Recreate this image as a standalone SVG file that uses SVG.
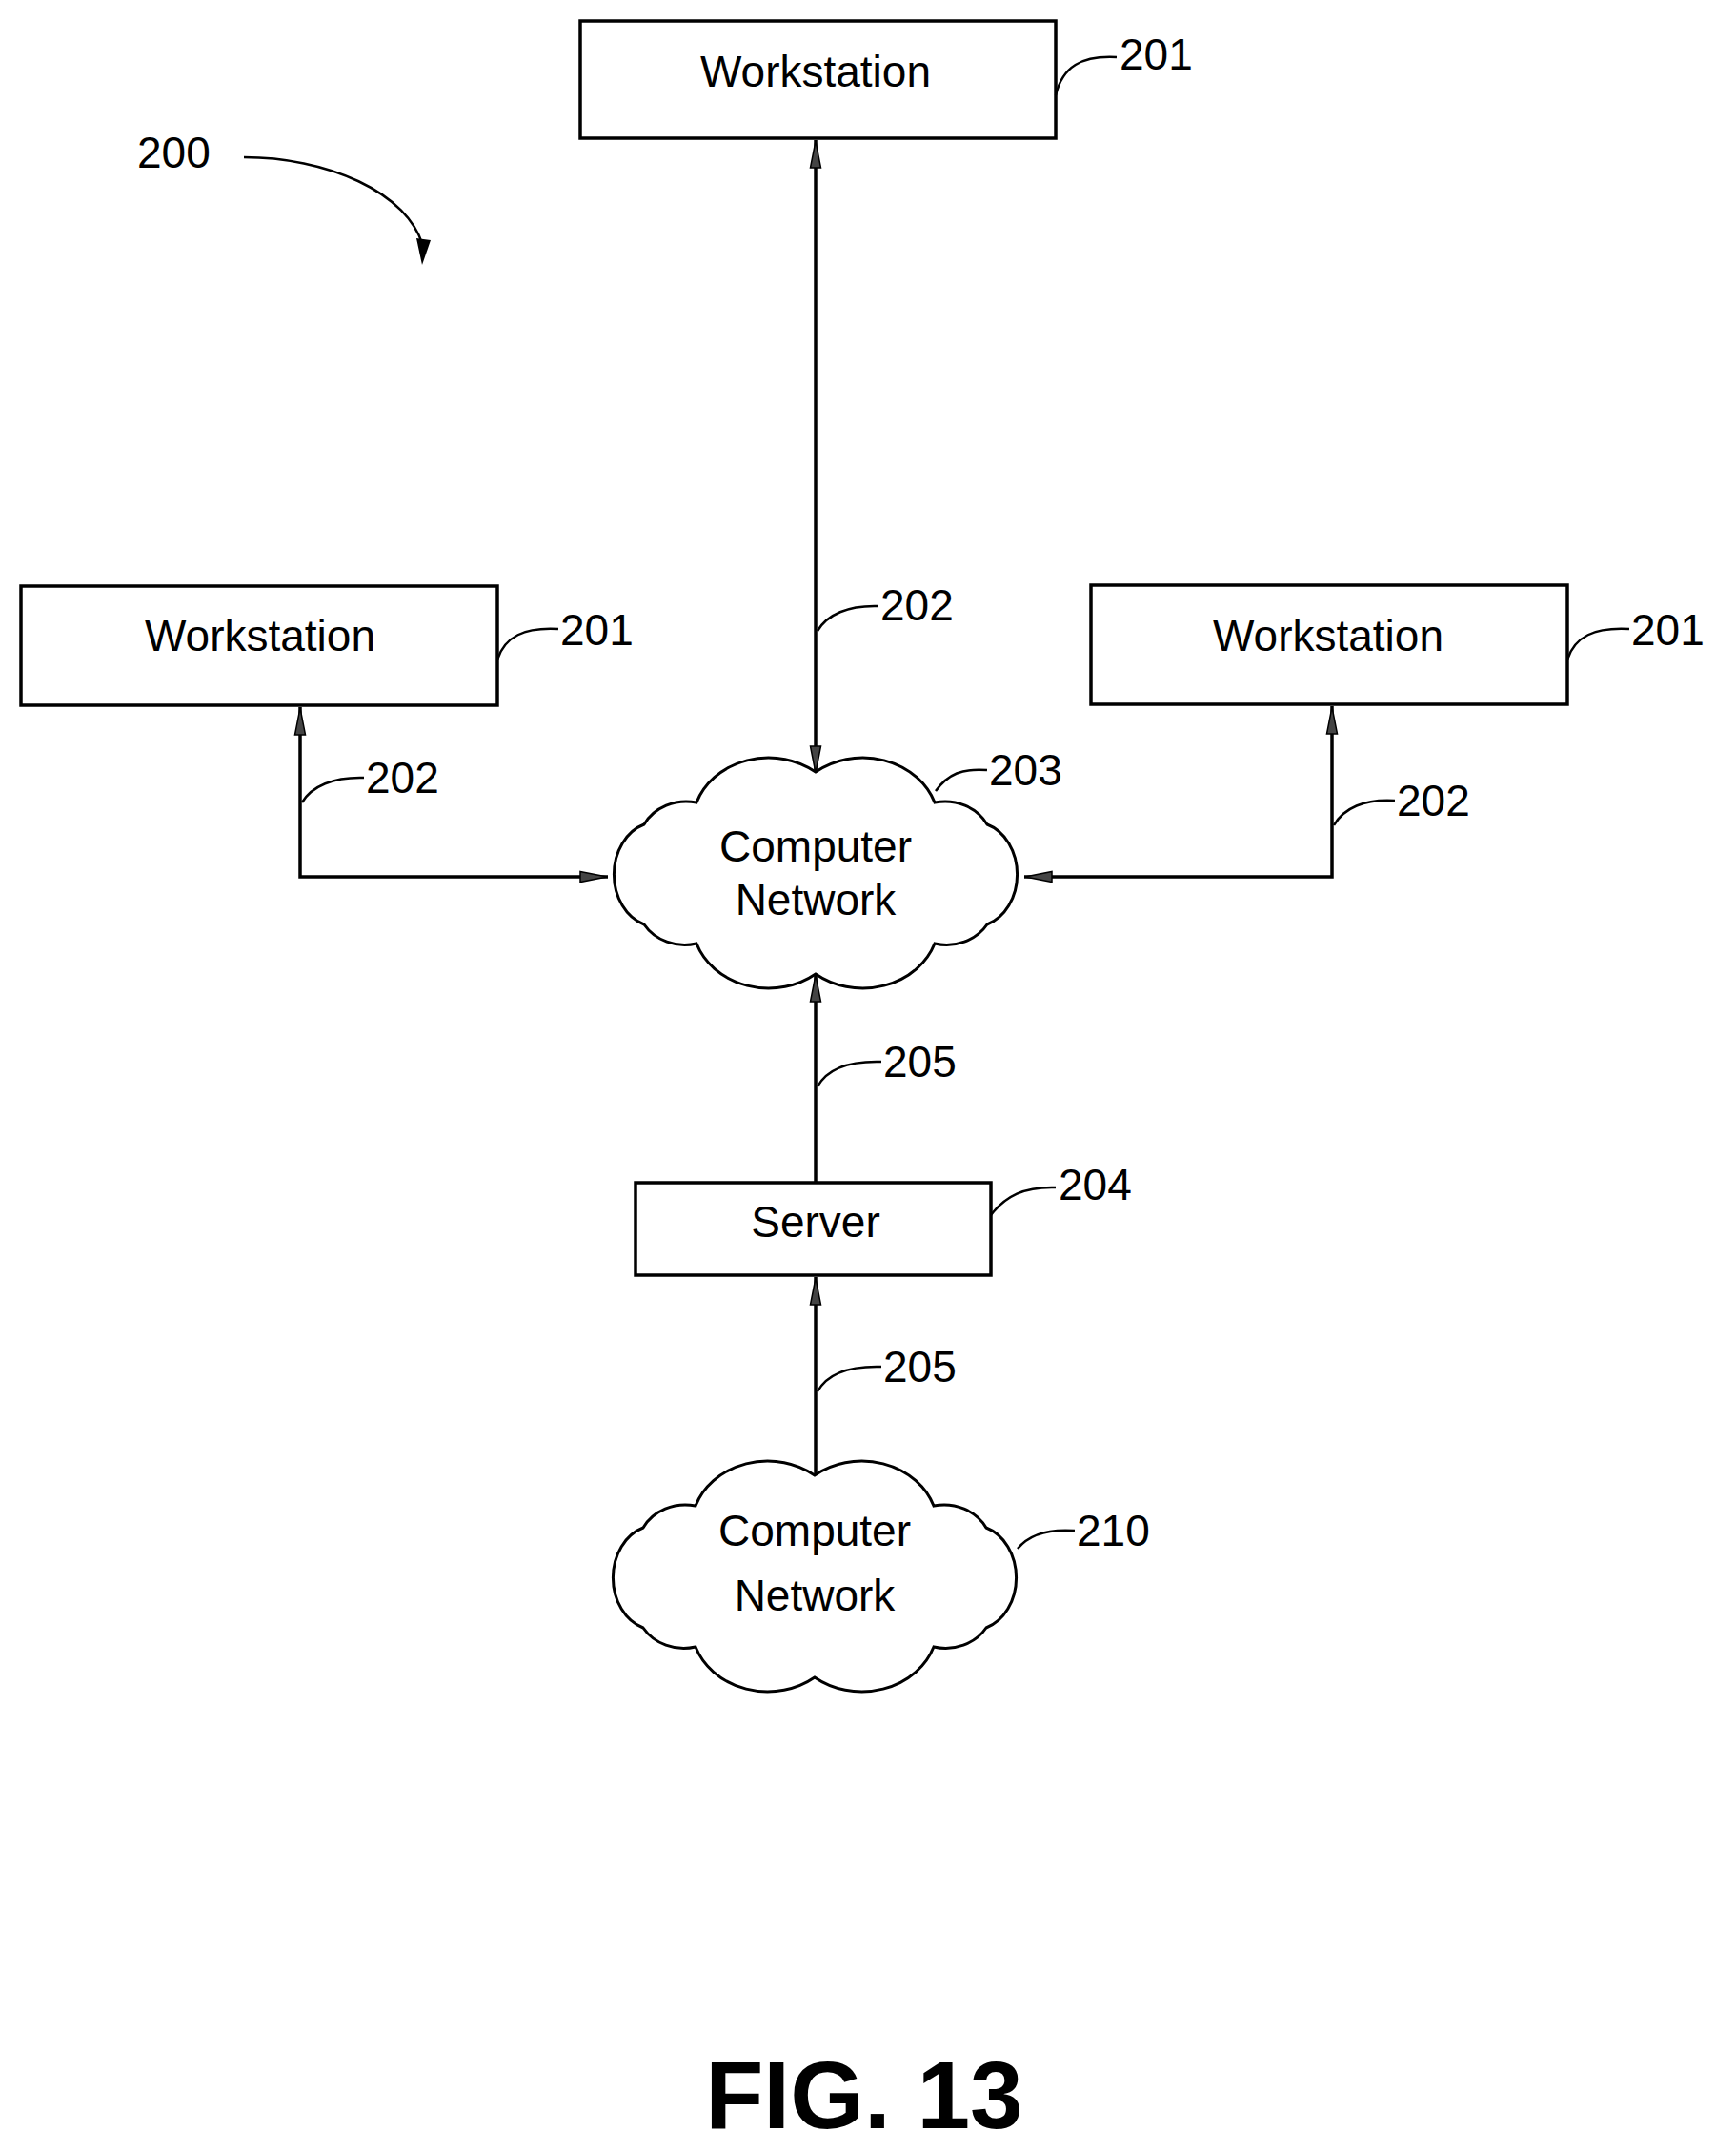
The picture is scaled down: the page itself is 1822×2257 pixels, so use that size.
<svg xmlns="http://www.w3.org/2000/svg" width="1822" height="2257" viewBox="0 0 1822 2257">
<style>
.box{fill:#fff;stroke:#000;stroke-width:3.5}
.t{font-family:"Liberation Sans",Arial,sans-serif;font-size:46px;text-anchor:middle;fill:#000}
.l{font-family:"Liberation Sans",Arial,sans-serif;font-size:46px;fill:#000}
.ln{fill:none;stroke:#000;stroke-width:3.5}
.ld{fill:none;stroke:#000;stroke-width:2.5}
</style>
<defs>
<marker id="a" markerWidth="30" markerHeight="14" refX="30" refY="7" orient="auto-start-reverse" markerUnits="userSpaceOnUse" viewBox="0 0 30 14">
<path d="M1,1.5 L29,7 L1,12.5 Z" fill="#444" stroke="#000" stroke-width="1.5"/>
</marker>
<path id="cloud" d="M40,65 A50,45 0 0 1 95,42 A80,70 0 0 1 220,10 A80,70 0 0 1 345,42 A50,45 0 0 1 400,65 A45,55 0 0 1 400,170 A50,45 0 0 1 345,190 A80,70 0 0 1 220,222 A80,70 0 0 1 95,190 A50,45 0 0 1 40,170 A45,55 0 0 1 40,65 Z"/>
</defs>
<g id="connectors">
<path class="ln" d="M856,147 L856,812" marker-start="url(#a)" marker-end="url(#a)"/>
<path class="ln" d="M315,742 L315,920 L638,920" marker-start="url(#a)" marker-end="url(#a)"/>
<path class="ln" d="M1398,741 L1398,920 L1075,920" marker-start="url(#a)" marker-end="url(#a)"/>
<path class="ln" d="M856,1241 L856,1022" marker-end="url(#a)"/>
<path class="ln" d="M856,1550 L856,1340" marker-end="url(#a)"/>
<path class="ld" d="M256,165 C340,165 430,200 445,262"/>
<path d="M437,250 L452,252 L443,278 Z" fill="#000"/>
</g>
<g id="n200"><text class="l" x="144" y="176">200</text></g>
<g id="ws-top">
<rect class="box" x="609" y="22" width="499" height="123"/>
<text class="t" x="856" y="91">Workstation</text>
<path class="ld" d="M1108,100 C1115,70 1135,58 1172,60"/><text class="l" x="1175" y="73">201</text>
</g>
<g id="ws-left">
<rect class="box" x="22" y="615" width="500" height="125"/>
<text class="t" x="273" y="683">Workstation</text>
<path class="ld" d="M522,692 C530,668 550,658 586,660"/><text class="l" x="588" y="677">201</text>
</g>
<g id="ws-right">
<rect class="box" x="1145" y="614" width="500" height="125"/>
<text class="t" x="1394" y="683">Workstation</text>
<path class="ld" d="M1645,692 C1653,668 1673,658 1710,660"/><text class="l" x="1712" y="677">201</text>
</g>
<g id="lbl202">
<path class="ld" d="M858,662 C868,645 890,635 922,636"/><text class="l" x="924" y="651">202</text>
<path class="ld" d="M317,842 C327,825 350,815 382,816"/><text class="l" x="384" y="832">202</text>
<path class="ld" d="M1400,866 C1410,848 1432,838 1464,840"/><text class="l" x="1466" y="856">202</text>
<path class="ld" d="M858,1140 C868,1122 890,1113 925,1114"/><text class="l" x="927" y="1130">205</text>
<path class="ld" d="M858,1460 C868,1442 890,1433 925,1434"/><text class="l" x="927" y="1450">205</text>
</g>
<g id="cloud203">
<use href="#cloud" transform="translate(636,800)" fill="#fff" stroke="#000" stroke-width="3"/>
<text class="t" x="856" y="904">Computer</text>
<text class="t" x="856" y="960">Network</text>
<path class="ld" d="M982,830 C995,812 1010,806 1036,808"/><text class="l" x="1038" y="824">203</text>
</g>
<g id="server">
<rect class="box" x="667" y="1241" width="373" height="97"/>
<text class="t" x="856" y="1298">Server</text>
<path class="ld" d="M1040,1275 C1055,1255 1075,1245 1108,1246"/><text class="l" x="1111" y="1259">204</text>
</g>
<g id="cloud210">
<use href="#cloud" transform="translate(635,1538)" fill="#fff" stroke="#000" stroke-width="3"/>
<text class="t" x="855" y="1622">Computer</text>
<text class="t" x="855" y="1690">Network</text>
<path class="ld" d="M1068,1625 C1080,1610 1100,1604 1128,1606"/><text class="l" x="1130" y="1622">210</text>
</g>
<text x="907" y="2233" font-family="Liberation Sans,Arial,sans-serif" font-weight="bold" font-size="100" text-anchor="middle">FIG. 13</text>
</svg>
